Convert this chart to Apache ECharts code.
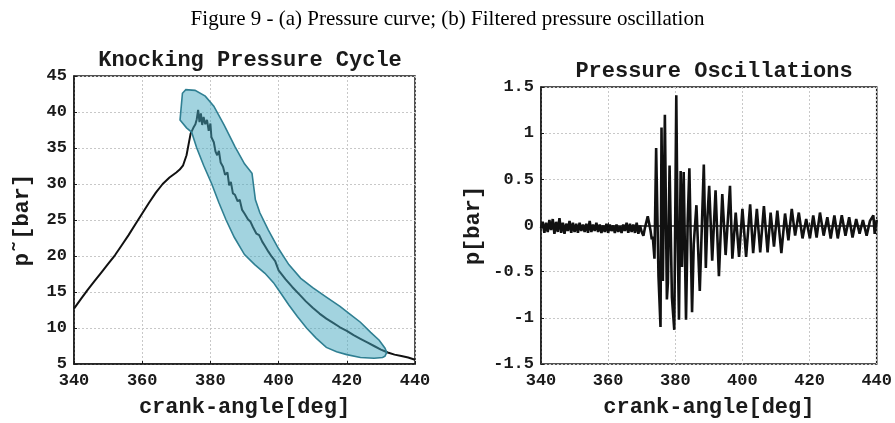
<!DOCTYPE html>
<html>
<head>
<meta charset="utf-8">
<script src="https://cdn.jsdelivr.net/npm/echarts@6/dist/echarts.min.js"></script>
<style>
  html, body { margin: 0; padding: 0; background: #fff; }
  #chart { width: 895px; height: 423px; }
</style>
</head>
<body>
<div id="chart"></div>
<script>
// (a) knocking pressure cycle
const pressureAngle = [340, 342, 344, 346, 348, 350, 352, 354, 356, 358, 360, 362, 364, 366, 368, 370, 371, 372, 373, 373.6,
  374.2, 375, 375.6, 376, 376.4, 376.8, 377.2, 377.6, 378, 378.5, 379, 379.5, 380, 380.3, 381, 381.5, 382, 382.5, 383, 383.7,
  384.3, 385, 385.5, 386, 386.6, 387.2, 388, 388.6, 389.3, 390, 391, 391.7, 392.5, 393.5, 394.3, 395.2, 396, 397, 398, 399,
  400, 402, 404, 406, 408, 410, 412, 414, 416, 418, 420, 422, 424, 426, 428, 430, 432, 434, 436, 438, 440]
const pressureValue = [12.7, 14.0, 15.3, 16.5, 17.7, 18.9, 20.1, 21.5, 22.9, 24.4, 25.9, 27.4, 28.8, 30.0, 30.9, 31.6, 32.0, 32.6, 34.0, 35.5,
  37.0, 37.8, 38.3, 39.0, 40.3, 38.6, 39.8, 38.2, 39.3, 38.3, 38.9, 37.4, 38.4, 36.5, 35.8, 34.5, 34.0, 34.6, 33.0, 32.4,
  31.3, 31.6, 29.8, 30.3, 28.7, 28.5, 27.6, 27.8, 26.4, 25.9, 25.1, 24.8, 24.0, 23.1, 22.9, 22.0, 21.4, 20.6, 19.9, 19.3,
  18.0, 16.8, 15.7, 14.7, 13.7, 12.8, 12.0, 11.3, 10.7, 10.1, 9.6, 9.0, 8.5, 8.0, 7.5, 7.0, 6.6, 6.3, 6.1, 5.9, 5.6]

// shaded knock window outline (upper edge then lower edge back)
const bandAngle = [371.1, 371.8, 372.8, 375.5, 378.5, 381, 384, 387.2, 390, 392.2, 392.6, 393.2, 394.5, 397, 400, 403, 406.5, 410, 414, 418,
  421, 424, 427, 429.5, 431.2, 431.7,
  431.2, 430.5, 428, 424, 420, 417, 414, 411, 408.2, 405.5, 403, 400.4, 398.5, 396, 393, 390, 387, 384.6, 382.5, 380.4,
  378, 376, 374.5, 373]
const bandValue = [38.9, 42.6, 43.1, 43.0, 42.2, 40.8, 38.2, 35.2, 32.8, 31.5, 30.0, 27.8, 26.0, 23.6, 21.0, 18.8, 16.9, 15.6, 14.3, 13.0,
  11.9, 10.8, 9.4, 8.3, 7.2, 6.6,
  6.1, 5.9, 5.8, 5.9, 6.3, 6.7, 7.3, 8.6, 10.0, 11.6, 13.2, 15.0, 16.3, 17.6, 18.8, 20.2, 22.6, 25.0, 27.4, 30.0,
  32.6, 35.0, 37.2, 37.8]

// (b) filtered pressure oscillation
const oscAngle = [340, 340.5, 341, 341.5, 342, 342.5, 343, 343.5, 344, 344.5, 345, 345.5, 346, 346.5, 347, 347.5, 348, 348.5, 349, 349.5,
  350, 350.5, 351, 351.5, 352, 352.5, 353, 353.5, 354, 354.5, 355, 355.5, 356, 356.5, 357, 357.5, 358, 358.5, 359, 359.5,
  360, 360.5, 361, 361.5, 362, 362.5, 363, 363.5, 364, 364.5, 365, 365.5, 366, 366.5, 367, 367.5, 368, 368.5, 369, 369.5,
  370, 370.5, 371, 371.8, 372.6, 373.0, 373.3, 373.8, 374.3, 375.0, 375.6, 375.9, 376.3, 376.9, 377.5, 377.8, 378.3, 379.0, 379.7, 380.3,
  380.7, 381.1, 381.6, 382.0, 382.5, 383.2, 383.7, 384.2, 385.0, 385.5, 386.3, 387.3, 388.5, 389.1, 389.6, 390.1, 391.0, 392.0, 393.0, 394.0,
  395.0, 396.3, 397.0, 398.0, 399.0, 400.0, 401.1, 402.3, 403.2, 404.3, 405.3, 406.4, 407.5, 408.4, 409.4, 410.4, 411.6, 412.7, 413.7, 414.7,
  415.7, 416.8, 417.9, 419.0, 420.1, 421.1, 422.1, 423.1, 424.2, 425.3, 426.3, 427.4, 428.4, 429.6, 430.7, 431.8, 432.8, 433.9, 434.9, 435.9,
  437.0, 438.0, 439.0, 439.4, 440]
const oscValue = [-0.03, 0.04, -0.08, 0.03, -0.07, 0.06, -0.05, 0.07, -0.09, 0.04, -0.07, 0.08, -0.08, 0.03, -0.09, 0.02, -0.06, 0.05, -0.08, 0.03,
  -0.07, 0.02, -0.08, 0.03, -0.06, 0.01, -0.07, 0.02, -0.08, 0.05, -0.07, 0.01, -0.06, 0.03, -0.07, 0.01, -0.08, 0.0, -0.07, 0.02,
  -0.08, 0.01, -0.06, 0.0, -0.08, 0.01, -0.07, -0.01, -0.08, 0.01, -0.06, 0.03, -0.08, 0.02, -0.07, 0.01, -0.08, 0.03, -0.09, 0.0,
  -0.07, -0.11, -0.02, 0.10, -0.05, -0.15, -0.12, -0.36, 0.84, -0.55, -1.10, 1.06, -0.60, 1.20, -0.80, -0.62, 0.65, -0.78, -1.13, 1.41,
  -0.12, -1.02, 0.59, -0.45, 0.58, -1.02, 0.05, 0.62, -0.94, -0.20, 0.22, -0.71, 0.66, -0.46, 0.10, 0.43, -0.38, 0.38, -0.55, 0.34,
  -0.32, 0.43, -0.36, 0.14, -0.34, 0.18, -0.34, 0.23, -0.30, 0.18, -0.29, 0.21, -0.29, 0.14, -0.23, 0.16, -0.30, 0.13, -0.16, 0.18,
  -0.11, 0.14, -0.14, 0.07, -0.14, 0.11, -0.13, 0.14, -0.11, 0.09, -0.14, 0.11, -0.14, 0.11, -0.11, 0.09, -0.13, 0.07, -0.09, 0.06,
  -0.11, 0.05, 0.11, -0.09, 0.06]

const FONT = 'Liberation Mono, DejaVu Sans Mono, monospace'
const INK = '#1a1a1a'
const zip = (xs, ys) => xs.map((x, i) => [x, ys[i]])

const split = { show: true, lineStyle: { color: '#c8c8c8', type: [2, 2], width: 1 } }
function xAx(gridIndex) {
  return {
    type: 'value', gridIndex, min: 340, max: 440, interval: 20,
    name: 'crank-angle[deg]', nameLocation: 'middle', nameGap: 32,
    nameTextStyle: { fontFamily: FONT, fontWeight: 'bold', fontSize: 22, color: INK },
    axisLine: { show: true, lineStyle: { color: INK, width: 1.5 } },
    axisTick: { show: true, inside: true, length: 3, lineStyle: { color: INK } },
    axisLabel: { fontFamily: FONT, fontWeight: 'bold', fontSize: 17, color: INK, margin: 8 },
    splitLine: split,
  }
}
function yAx(gridIndex, min, max, interval, name, gap) {
  return {
    type: 'value', gridIndex, min, max, interval,
    name, nameLocation: 'middle', nameGap: gap,
    nameTextStyle: { fontFamily: FONT, fontWeight: 'bold', fontSize: 22, color: INK },
    axisLine: { show: true, lineStyle: { color: INK, width: 1.5 } },
    axisTick: { show: true, inside: true, length: 3, lineStyle: { color: INK } },
    axisLabel: { fontFamily: FONT, fontWeight: 'bold', fontSize: 17, color: INK, margin: 7 },
    splitLine: split,
  }
}

const bandPts = zip(bandAngle, bandValue)
const chart = echarts.init(document.getElementById('chart'), null, { renderer: 'canvas' })
chart.setOption({
  backgroundColor: '#fff',
  animation: false,
  title: [
    { text: 'Figure 9 - (a) Pressure curve; (b) Filtered pressure oscillation', left: 'center', top: 4,
      textStyle: { fontFamily: 'Liberation Serif, Times New Roman, serif', fontWeight: 'normal', fontSize: 21, color: '#000' } },
    { text: 'Knocking Pressure Cycle', left: 245, top: 44, textAlign: 'center',
      textStyle: { fontFamily: FONT, fontWeight: 'bold', fontSize: 22, color: INK } },
    { text: 'Pressure Oscillations', left: 709, top: 55, textAlign: 'center',
      textStyle: { fontFamily: FONT, fontWeight: 'bold', fontSize: 22, color: INK } },
  ],
  grid: [
    { left: 74, top: 76, width: 341, height: 291, show: true, borderColor: INK, borderWidth: 1.5, backgroundColor: '#fff' },
    { left: 541, top: 87, width: 337, height: 280, show: true, borderColor: INK, borderWidth: 1.5, backgroundColor: '#fff' },
  ],
  xAxis: [xAx(0), xAx(1)],
  yAxis: [
    yAx(0, 5, 45, 5, 'p\u02dc[bar]', 41),
    yAx(1, -1.5, 1.5, 0.5, 'p[bar]', 57),
  ],
  series: [
    {
      type: 'line', xAxisIndex: 0, yAxisIndex: 0, data: zip(pressureAngle, pressureValue),
      showSymbol: false, lineStyle: { color: '#111', width: 2 }, z: 2,
    },
    {
      type: 'custom', xAxisIndex: 0, yAxisIndex: 0, data: [[400, 20]], z: 3,
      renderItem: (params, api) => ({
        type: 'polygon',
        shape: { points: bandPts.map((p) => api.coord(p)) },
        style: { fill: 'rgba(70,168,192,0.5)', stroke: '#2f7f92', lineWidth: 1.6 },
      }),
    },
    {
      type: 'line', xAxisIndex: 1, yAxisIndex: 1, data: zip(oscAngle, oscValue),
      showSymbol: false, lineStyle: { color: '#111', width: 2.6 },
    },
  ],
})
</script>
</body>
</html>
